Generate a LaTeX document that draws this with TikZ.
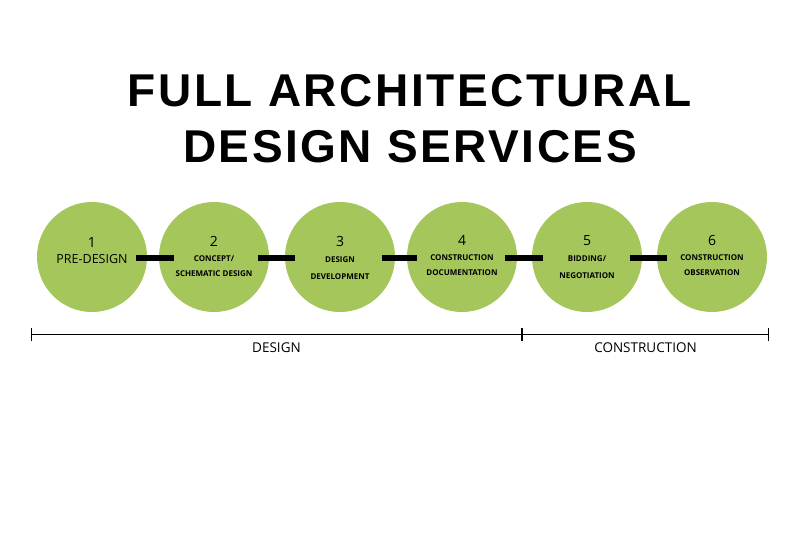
\documentclass[tikz,border=0pt]{standalone}
\usepackage{fontspec}
\setmainfont{Open Sans}
\newfontfamily\titlefont[LetterSpace=5.5]{Liberation Sans}
\usetikzlibrary{arrows.meta, calc}
\definecolor{phasegreen}{RGB}{165,198,90}
\newcommand{\phasenum}[1]{{\fontsize{14}{17}\mdseries #1}}
\tikzset{
  phase/.style={circle, fill=phasegreen, minimum size=110pt, inner sep=0pt},
  phasetext/.style={align=center, inner sep=0pt, text=black, font=\fontsize{8}{15}\bfseries},
  link/.style={line width=6pt, black},
  span/.style={line width=0.8pt, {Bar[width=13pt]}-{Bar[width=13pt]}},
}
\begin{document}
\begin{tikzpicture}[x=1pt, y=-1pt, font=\fontsize{13.5}{16}\selectfont]
				\useasboundingbox (0,0) rectangle (800,533);
				\node[font=\fontsize{46}{56}\titlefont\bfseries, align=center] (title) at (410,119) {FULL ARCHITECTURAL\\DESIGN SERVICES};
				% phases
				\node[phase] (c1) at (92,257) {};
				\node[phase] (c2) at (214,257) {};
				\node[phase] (c3) at (340,257) {};
				\node[phase] (c4) at (462,257) {};
				\node[phase] (c5) at (587,257) {};
				\node[phase] (c6) at (712,257) {};
				\node[phasetext] (t1) at ($(c1)+(0,-6)$) {\phasenum{1}\\[1pt]{\fontsize{12.5}{14}\mdseries PRE-DESIGN}};
				\node[phasetext] (t2) at ($(c2)+(0,-1)$) {\phasenum{2}\\CONCEPT/\\SCHEMATIC DESIGN};
				\node[phasetext] (t3) at ($(c3)+(0,1)$) {\phasenum{3}\\[1pt]DESIGN\\[2pt]DEVELOPMENT};
				\node[phasetext] (t4) at ($(c4)+(0,-1)$) {\phasenum{4}\\CONSTRUCTION\\DOCUMENTATION};
				\node[phasetext] (t5) at ($(c5)+(0,0)$) {\phasenum{5}\\[1pt]BIDDING/\\[2pt]NEGOTIATION};
				\node[phasetext] (t6) at ($(c6)+(0,-2)$) {\phasenum{6}\\CONSTRUCTION\\OBSERVATION};
				\draw[link] ([shift={(-11,1)}]c1.east) -- ([shift={(15,1)}]c2.west);
				\draw[link] ([shift={(-11,1)}]c2.east) -- ([shift={(10,1)}]c3.west);
				\draw[link] ([shift={(-13,1)}]c3.east) -- ([shift={(10,1)}]c4.west);
				\draw[link] ([shift={(-12,1)}]c4.east) -- ([shift={(11,1)}]c5.west);
				\draw[link] ([shift={(-12,1)}]c5.east) -- ([shift={(10,1)}]c6.west);
				% design / construction spans
				\coordinate (d0) at (31,334);
				\coordinate (d1) at (522,334);
				\coordinate (d2) at (769,334);
				\draw[span] (d0) -- (d1);
				\draw[span] (d1) -- (d2);
				\node[below=9pt, inner sep=0pt] (design) at ($(d0)!0.5!(d1)$) {DESIGN};
				\node[below=9pt, inner sep=0pt] (construction) at ($(d1)!0.5!(d2)$) {CONSTRUCTION};
		\end{tikzpicture}
\end{document}
